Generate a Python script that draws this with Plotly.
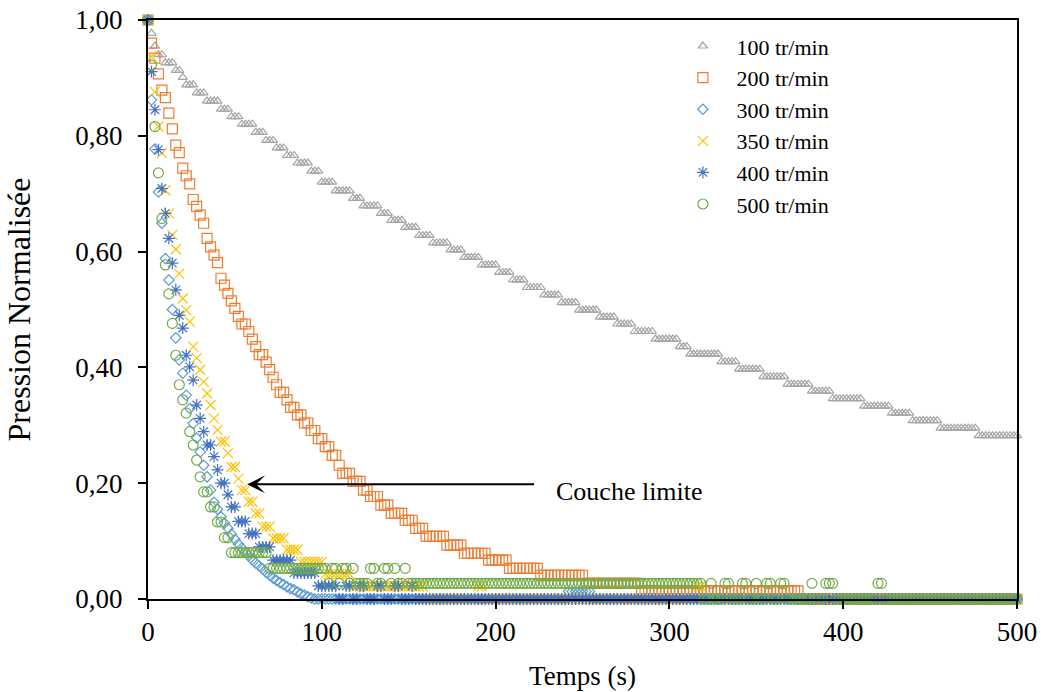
import plotly.graph_objects as go

# Sampling grid (s)
TIME = list(range(0, 502, 2))

# Each series: plateau start times (s) and the level held from that time
T100 = [0, 2, 4, 6, 9, 15, 19, 22, 27, 34, 42, 48, 54, 61, 67, 74, 80, 86, 93, 100,
        108, 118, 124, 133, 139, 147, 155, 163, 173, 181, 191, 201, 209, 217, 227,
        237, 247, 259, 269, 280, 291, 306, 311, 330, 339, 354, 368, 381, 394, 411,
        428, 440, 456, 478]
V100 = [1.0, 0.977, 0.955, 0.940, 0.926, 0.913, 0.901, 0.888, 0.874, 0.860, 0.846,
        0.833, 0.820, 0.806, 0.792, 0.779, 0.766, 0.753, 0.739, 0.720, 0.705, 0.692,
        0.679, 0.666, 0.654, 0.642, 0.628, 0.615, 0.603, 0.590, 0.577, 0.564, 0.551,
        0.538, 0.525, 0.512, 0.499, 0.487, 0.475, 0.462, 0.449, 0.436, 0.423, 0.410,
        0.397, 0.384, 0.371, 0.359, 0.346, 0.333, 0.321, 0.308, 0.295, 0.282]

T200 = [0, 2, 4, 6, 8, 10, 12, 14, 16, 18, 20, 22, 24, 26, 28, 30, 32, 34, 36, 38,
        40, 42, 44, 46, 48, 50, 52, 54, 58, 60, 62, 64, 68, 70, 72, 74, 76, 80, 82,
        86, 90, 94, 98, 102, 106, 110, 112, 118, 124, 128, 134, 140, 148, 154, 160,
        172, 182, 196, 208, 226, 251, 284, 376]
V200 = [1.0, 0.960, 0.934, 0.907, 0.879, 0.866, 0.839, 0.812, 0.784, 0.771, 0.744,
        0.731, 0.717, 0.690, 0.678, 0.663, 0.649, 0.623, 0.608, 0.594, 0.581, 0.554,
        0.542, 0.528, 0.515, 0.502, 0.488, 0.475, 0.462, 0.449, 0.436, 0.422, 0.409,
        0.396, 0.383, 0.370, 0.357, 0.344, 0.331, 0.318, 0.304, 0.291, 0.277, 0.263,
        0.248, 0.231, 0.217, 0.203, 0.188, 0.177, 0.162, 0.148, 0.136, 0.122, 0.108,
        0.093, 0.079, 0.067, 0.053, 0.041, 0.027, 0.014, 0.0]

T300 = [0, 2, 4, 6, 8, 10, 12, 14, 16, 18, 20, 22, 24, 26, 28, 30, 32, 34, 36, 38,
        40, 42, 44, 46, 48, 50, 52, 54, 56, 58, 60, 62, 64, 66, 68, 70, 72, 74, 76,
        78, 80, 82, 84, 86, 88, 90, 92, 94, 96, 242, 256]
V300 = [1.0, 0.862, 0.777, 0.703, 0.649, 0.588, 0.551, 0.500, 0.451, 0.413, 0.390,
        0.352, 0.329, 0.303, 0.278, 0.254, 0.231, 0.211, 0.188, 0.167, 0.155, 0.142,
        0.131, 0.122, 0.112, 0.103, 0.095, 0.088, 0.081, 0.075, 0.068, 0.062, 0.057,
        0.052, 0.046, 0.041, 0.036, 0.032, 0.028, 0.025, 0.021, 0.018, 0.016, 0.012,
        0.009, 0.007, 0.004, 0.002, 0.0, 0.013, 0.0]

T350 = [0, 2, 4, 6, 8, 10, 12, 14, 16, 18, 20, 22, 24, 26, 28, 30, 32, 34, 36, 38,
        40, 42, 44, 46, 48, 50, 52, 54, 58, 62, 66, 72, 80, 88, 102, 118, 160, 190,
        194, 316, 320]
V350 = [1.0, 0.937, 0.876, 0.816, 0.770, 0.706, 0.666, 0.629, 0.604, 0.562, 0.519,
        0.499, 0.479, 0.436, 0.416, 0.396, 0.375, 0.355, 0.335, 0.312, 0.292, 0.272,
        0.272, 0.252, 0.228, 0.228, 0.208, 0.188, 0.168, 0.148, 0.125, 0.105, 0.085,
        0.064, 0.043, 0.022, 0.0, 0.022, 0.0, 0.022, 0.0]

T400 = [0, 2, 4, 6, 8, 10, 12, 14, 16, 18, 20, 22, 24, 26, 28, 30, 32, 34, 36, 38,
        40, 42, 44, 46, 48, 50, 52, 58, 64, 72, 84, 98, 110, 114, 118, 122, 126, 132,
        136, 142, 146, 152, 154]
V400 = [1.0, 0.911, 0.845, 0.776, 0.709, 0.666, 0.623, 0.580, 0.534, 0.490, 0.468,
        0.421, 0.401, 0.378, 0.335, 0.312, 0.289, 0.266, 0.266, 0.246, 0.223, 0.200,
        0.200, 0.180, 0.159, 0.159, 0.134, 0.113, 0.090, 0.067, 0.045, 0.0225, 0.0,
        0.0225, 0.0, 0.0225, 0.0, 0.0225, 0.0, 0.0225, 0.0, 0.0225, 0.0]

T500 = [0, 2, 4, 6, 8, 10, 12, 14, 16, 18, 20, 22, 24, 26, 28, 30, 32, 34, 36, 38,
        40, 42, 44, 46, 48, 70, 104, 106, 110, 112, 116, 118, 120, 128, 132, 136, 140,
        142, 144, 148, 150, 320, 324, 326, 332, 336, 342, 346, 350, 352, 356, 360,
        364, 368, 382, 384, 390, 396, 420, 424]
V500 = [1.0, 0.922, 0.816, 0.736, 0.657, 0.577, 0.527, 0.476, 0.421, 0.370, 0.344,
        0.321, 0.289, 0.266, 0.240, 0.211, 0.185, 0.185, 0.159, 0.159, 0.133, 0.133,
        0.106, 0.106, 0.080, 0.053, 0.027, 0.053, 0.027, 0.053, 0.027, 0.053, 0.027,
        0.053, 0.027, 0.053, 0.027, 0.053, 0.027, 0.053, 0.027, 0.0, 0.027, 0.0,
        0.027, 0.0, 0.027, 0.0, 0.027, 0.0, 0.027, 0.0, 0.027, 0.0, 0.027, 0.0,
        0.027, 0.0, 0.027, 0.0]

X_TICKS = [0, 100, 200, 300, 400, 500]
Y_TICKS = [0.0, 0.2, 0.4, 0.6, 0.8, 1.0]
Y_TICK_TEXT = ["0,00", "0,20", "0,40", "0,60", "0,80", "1,00"]


def hold(ts, vs):
    out, j = [], 0
    for t in TIME:
        while j + 1 < len(ts) and ts[j + 1] <= t:
            j += 1
        out.append(vs[j])
    return out


SERIES = [
    ("100 tr/min", T100, V100, "triangle-up-open", 8, "#A5A5A5"),
    ("200 tr/min", T200, V200, "square-open", 10, "#ED7D31"),
    ("300 tr/min", T300, V300, "diamond-open", 8, "#5B9BD5"),
    ("350 tr/min", T350, V350, "x-thin-open", 10, "#FFC000"),
    ("400 tr/min", T400, V400, "asterisk-open", 10, "#4472C4"),
    ("500 tr/min", T500, V500, "circle-open", 10, "#70AD47"),
]

FONT = "Liberation Serif"
fig = go.Figure()
for name, ts, vs, sym, size, col in SERIES:
    fig.add_trace(go.Scatter(
        x=TIME, y=hold(ts, vs), mode="markers", name=name, cliponaxis=False,
        marker=dict(symbol=sym, size=size, color=col,
                    line=dict(color=col, width=1.2)),
    ))

axis_common = dict(showgrid=False, zeroline=False, ticks="outside", ticklen=8,
                   tickwidth=2, tickcolor="black", showline=True, linecolor="black",
                   linewidth=2, mirror=True, automargin=False,
                   tickfont=dict(family=FONT, size=27, color="black"))
fig.update_layout(
    width=1041, height=692,
    margin=dict(l=148, r=24, t=20, b=93, pad=0),
    paper_bgcolor="white", plot_bgcolor="white",
    font=dict(family=FONT, color="black"),
    xaxis=dict(range=[0, 500], tickvals=X_TICKS,
               title=dict(text="Temps (s)", font=dict(family=FONT, size=27), standoff=20),
               **axis_common),
    yaxis=dict(range=[0, 1.0], tickvals=Y_TICKS, ticktext=Y_TICK_TEXT, ticklabelstandoff=10,
               title=dict(text="Pression Normalisée", font=dict(family=FONT, size=32), standoff=35),
               **axis_common),
    xaxis2=dict(range=[0, 500], tickvals=X_TICKS, overlaying="x", anchor="y", side="bottom",
                ticks="inside", ticklen=8, tickwidth=2, tickcolor="black", automargin=False,
                showticklabels=False, showgrid=False, zeroline=False, showline=False),
    yaxis2=dict(range=[0, 1.0], tickvals=Y_TICKS, overlaying="y", anchor="x", side="left",
                ticks="inside", ticklen=8, tickwidth=2, tickcolor="black", automargin=False,
                showticklabels=False, showgrid=False, zeroline=False, showline=False),
    legend=dict(x=0.600, y=0.991, xanchor="left", yanchor="top",
                font=dict(family=FONT, size=22, color="black"),
                bgcolor="rgba(0,0,0,0)", itemwidth=57),
    showlegend=True,
)

fig.add_annotation(x=57.1, y=0.198, ax=223, ay=0.198, xref="x", yref="y",
                   axref="x", ayref="y", text="", showarrow=True, arrowhead=3,
                   arrowsize=1.5, arrowwidth=2, arrowcolor="black")
fig.add_annotation(x=233.4, y=0.185, xref="x", yref="y", text="Couche limite",
                   showarrow=False, xanchor="left", yanchor="middle",
                   font=dict(family=FONT, size=26, color="black"))

fig.write_html("out.html", config={"displayModeBar": False},
               post_script="document.body.style.margin='0';document.body.style.overflow='hidden';")
